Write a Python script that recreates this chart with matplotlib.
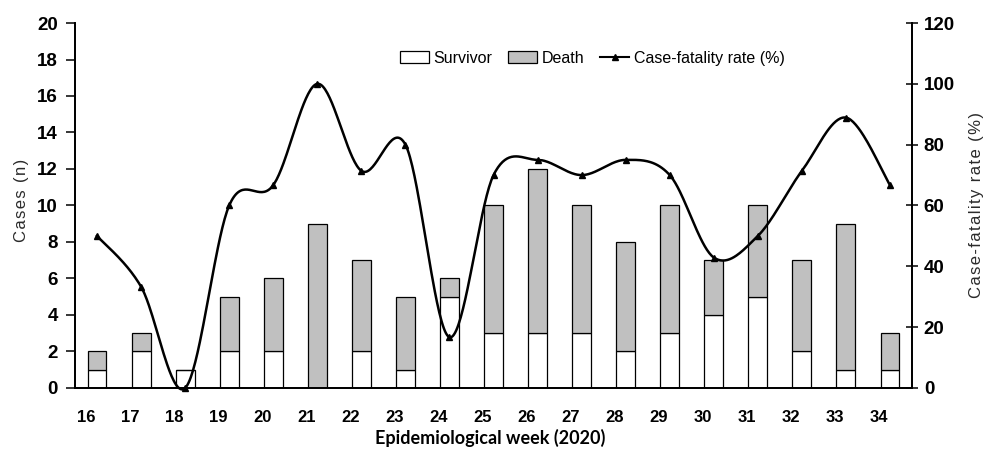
import numpy as np
import matplotlib
matplotlib.use("Agg")
import matplotlib.pyplot as plt
from matplotlib import font_manager
from matplotlib.patches import Patch
from matplotlib.lines import Line2D

# Data
weeks = [16, 17, 18, 19, 20, 21, 22, 23, 24, 25, 26, 27, 28, 29, 30, 31, 32, 33, 34]
survivors = [1, 2, 1, 2, 2, 0, 2, 1, 5, 3, 3, 3, 2, 3, 4, 5, 2, 1, 1]
deaths = [1, 1, 0, 3, 4, 9, 5, 4, 1, 7, 9, 7, 6, 7, 3, 5, 5, 8, 2]
cfr = [50, 33.3, 0, 60, 66.7, 100, 71.4, 80, 16.7, 70, 75, 70, 75, 70, 42.9, 50, 71.4, 88.9, 66.7]

left_ticks = list(range(0, 21, 2))
right_ticks = list(range(0, 121, 20))


def pick_font(names):
    have = {f.name for f in font_manager.fontManager.ttflist}
    for n in names:
        if n in have:
            return n
    return "DejaVu Sans"


narrow = pick_font(["Liberation Sans Narrow", "Liberation Sans"])
regular = pick_font(["Liberation Sans", "DejaVu Sans"])
xlab_font = pick_font(["Lato", "Open Sans", "DejaVu Sans"])


def spaced(s):
    # slight letter spacing like the original axis titles
    return "\u200a".join(s)


# Excel-style smoothed line (cubic Bezier, control points at 1/6 of neighbour span)
def smooth_curve(xs, ys, steps=40):
    xs = np.asarray(xs, float)
    ys = np.asarray(ys, float)
    px = np.concatenate([[xs[0]], xs, [xs[-1]]])
    py = np.concatenate([[ys[0]], ys, [ys[-1]]])
    out_x, out_y = [], []
    t = np.linspace(0, 1, steps)
    for i in range(1, len(px) - 2):
        p0 = np.array([px[i], py[i]])
        p3 = np.array([px[i + 1], py[i + 1]])
        c1 = p0 + (np.array([px[i + 1], py[i + 1]]) - np.array([px[i - 1], py[i - 1]])) / 6
        c2 = p3 - (np.array([px[i + 2], py[i + 2]]) - np.array([px[i], py[i]])) / 6
        bx = (1 - t) ** 3 * p0[0] + 3 * (1 - t) ** 2 * t * c1[0] + 3 * (1 - t) * t ** 2 * c2[0] + t ** 3 * p3[0]
        by = (1 - t) ** 3 * p0[1] + 3 * (1 - t) ** 2 * t * c1[1] + 3 * (1 - t) * t ** 2 * c2[1] + t ** 3 * p3[1]
        out_x.extend(bx)
        out_y.extend(by)
    return np.array(out_x), np.array(out_y)


fig = plt.figure(figsize=(9.92, 4.51), dpi=100)
ax = fig.add_axes([0.0756, 0.1397, 0.9194 - 0.0756, 0.949 - 0.1397])
ax2 = ax.twinx()

bar_w = 0.43
ax.bar(weeks, survivors, width=bar_w, color="white", edgecolor="black", linewidth=0.9, zorder=2)
ax.bar(weeks, deaths, bottom=survivors, width=bar_w, color="#c0c0c0", edgecolor="black", linewidth=0.9, zorder=2)

sx, sy = smooth_curve(weeks, cfr)
ax2.plot(sx, sy, color="black", linewidth=1.8, clip_on=False, zorder=3)
ax2.plot(weeks, cfr, linestyle="none", marker="^", markersize=5, color="black", clip_on=False, zorder=4)

ax.set_xlim(15.5, 34.5)
ax.set_ylim(0, 20)
ax2.set_ylim(0, 120)

ax.set_yticks(left_ticks)
ax2.set_yticks(right_ticks)
ax.set_xticks([w - 0.25 for w in weeks])
ax.set_xticklabels([str(w) for w in weeks])

for a in (ax, ax2):
    a.spines["top"].set_visible(False)
    for s in ("left", "right", "bottom"):
        a.spines[s].set_linewidth(1.3)

ax.tick_params(axis="x", length=0, pad=16, labelsize=12)
ax.tick_params(axis="y", direction="out", length=6.5, width=1.1, pad=6, labelsize=13.5)
ax2.tick_params(axis="y", direction="inout", length=9, width=1.1, pad=4, labelsize=13.5)
for lab in ax.get_xticklabels() + ax.get_yticklabels() + ax2.get_yticklabels():
    lab.set_fontfamily(narrow)
    lab.set_fontweight("bold")

fig.text(0.022, 0.555, spaced("Cases (n)"), rotation=90, ha="center", va="center",
         fontsize=12, family=[regular, "DejaVu Sans"], color="#2a2a2a")
fig.text(0.984, 0.545, spaced("Case-fatality rate (%)"), rotation=90, ha="center", va="center",
         fontsize=12, family=[regular, "DejaVu Sans"], color="#2a2a2a")
fig.text(0.494, 0.028, "Epidemiological week (2020)", ha="center", va="center",
         fontsize=13, family=xlab_font, fontweight="bold")

handles = [
    Patch(facecolor="white", edgecolor="black", linewidth=0.9),
    Patch(facecolor="#c0c0c0", edgecolor="black", linewidth=0.9),
    Line2D([], [], color="black", linewidth=1.5, marker="^", markersize=4),
]
fig.legend(handles, ["Survivor", "Death", "Case-fatality rate (%)"], loc="center",
           bbox_to_anchor=(0.597, 0.871), ncol=3, frameon=False,
           prop={"family": narrow, "size": 11.5}, handlelength=1.8, handleheight=0.7,
           handletextpad=0.3, columnspacing=1.0)

fig.savefig("out.png", dpi=100)
